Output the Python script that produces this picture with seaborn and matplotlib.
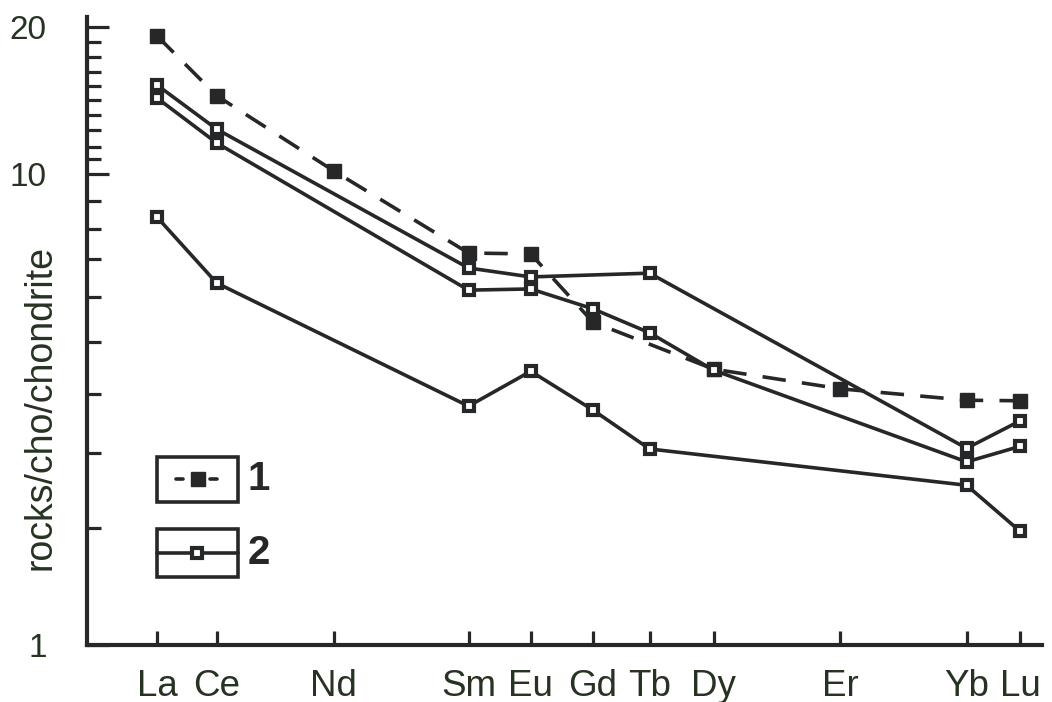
import numpy as np
import pandas as pd
import matplotlib
matplotlib.use("Agg")
import matplotlib.pyplot as plt
from matplotlib.lines import Line2D
from matplotlib.patches import Rectangle
from matplotlib.ticker import FixedLocator, NullFormatter
import seaborn as sns

# ---------------- data ----------------
elements = ["La", "Ce", "Nd", "Sm", "Eu", "Gd", "Tb", "Dy", "Er", "Yb", "Lu"]
positions = [57.0, 57.97, 59.87, 62.06, 63.07, 64.08, 65.0, 66.04, 68.1, 70.15, 71.02]
nan = np.nan
series_1 = [19.4, 15.3, 10.2, 7.19, 7.16, 5.42, nan, 4.45, 4.09, 3.88, 3.87]
series_2a = [16.07, 13.05, nan, 6.75, 6.51, nan, 6.61, nan, nan, 3.07, 3.51]
series_2b = [15.14, 12.23, nan, 6.17, 6.20, 5.72, 5.19, 4.43, nan, 2.86, 3.10]
series_2c = [8.41, 6.35, nan, 3.77, 4.41, 3.70, 3.06, nan, nan, 2.52, 1.96]
y_major = [1, 10, 20]
y_major_labels = ["1", "10", "20"]
y_minor = [2, 3, 4, 5, 6, 7, 8, 9, 11, 12, 13, 14, 15, 16, 17, 18, 19]
y_label = "rocks/cho/chondrite"
legend_labels = ["1", "2"]

# calibration of the hand-drawn (quasi-logarithmic) value axis:
# value -> fraction of axis height
axis_vals = [1, 2, 3, 4, 5, 6, 7, 8, 9, 10, 11, 12, 13, 14, 15, 16, 17, 18, 19, 20, 20.7]
axis_frac = [0.0, 0.1863, 0.3057, 0.3997, 0.4825, 0.5541, 0.6146, 0.6624,
             0.7070, 0.7500, 0.7739, 0.7930, 0.8201, 0.8439, 0.8678, 0.8901,
             0.9124, 0.9363, 0.9602, 0.9841, 1.0]

rows = []
for name, vals in [("1", series_1), ("2a", series_2a), ("2b", series_2b), ("2c", series_2c)]:
    for el, p, v in zip(elements, positions, vals):
        rows.append({"sample": name, "element": el, "pos": p, "value": v})
df = pd.DataFrame(rows).dropna()

_lv = np.log10(axis_vals)
_fr = np.array(axis_frac)


def fwd(v):
    v = np.asarray(v, dtype=float)
    return np.interp(np.log10(np.clip(v, 1e-6, None)), _lv, _fr)


def inv(f):
    f = np.asarray(f, dtype=float)
    return 10 ** np.interp(f, _fr, _lv)


# ---------------- style ----------------
sns.set_style("white")
plt.rcParams["font.family"] = ["Liberation Sans", "DejaVu Sans"]
line_c = "#262728"
text_c = "#263222"

fig = plt.figure(figsize=(10.52, 7.02), dpi=100)
ax = fig.add_axes([87 / 1052, 1 - 645 / 702, 955 / 1052, 628 / 702])

# filled series (dashed)
sns.lineplot(data=df[df["sample"] == "1"], x="pos", y="value", ax=ax,
             sort=False, estimator=None, color=line_c, linewidth=2.6,
             linestyle=(0, (6.5, 4.5)), marker="s", markersize=9.5,
             markerfacecolor=line_c, markeredgecolor=line_c,
             markeredgewidth=1.0, zorder=3)

# open series (solid)
for name in ["2a", "2b", "2c"]:
    sns.lineplot(data=df[df["sample"] == name], x="pos", y="value", ax=ax,
                 sort=False, estimator=None, color=line_c, linewidth=2.6,
                 marker="s", markersize=7.5, markerfacecolor="white",
                 markeredgecolor=line_c, markeredgewidth=3.0, zorder=4)

ax.set_yscale("function", functions=(fwd, inv))
ax.set_ylim(1, 20.7)
ax.set_xlim(55.863, 71.374)

ax.yaxis.set_major_locator(FixedLocator(y_major))
ax.set_yticklabels(y_major_labels)
ax.yaxis.set_minor_locator(FixedLocator(y_minor))
ax.yaxis.set_minor_formatter(NullFormatter())

ax.set_xticks(positions)
ax.set_xticklabels(elements)
ax.xaxis.set_minor_locator(FixedLocator([]))

ax.tick_params(axis="y", which="both", left=True, right=False)
ax.tick_params(axis="x", which="both", bottom=True, top=False)
ax.tick_params(axis="y", which="major", direction="in", length=16, width=2.3,
               color=line_c, labelsize=24, labelcolor=text_c, pad=29)
ax.tick_params(axis="y", which="minor", direction="in", length=10, width=2.3,
               color=line_c)
ax.tick_params(axis="x", which="major", direction="in", length=10, width=2.3,
               color=line_c, labelsize=26.5, labelcolor=text_c, pad=17)

for s in ["top", "right"]:
    ax.spines[s].set_visible(False)
for s in ["left", "bottom"]:
    ax.spines[s].set_linewidth(3.0)
    ax.spines[s].set_color(line_c)

ax.set_xlabel("")
ax.set_ylabel(y_label, fontsize=27, color=text_c)
ax.yaxis.set_label_coords(-0.030, 0.378)

# ---------------- legend (boxed keys) ----------------
tr = ax.transAxes
box_w = 0.0848
boxes = [(0.0733, 0.2277, 0.0717), (0.0733, 0.1083, 0.0764)]
for (x0, y0, h), lab in zip(boxes, legend_labels):
    ax.add_patch(Rectangle((x0, y0), box_w, h, transform=tr, fill=False,
                           edgecolor=line_c, linewidth=2.6, zorder=5,
                           clip_on=False))
    ax.text(x0 + box_w + 0.010, y0 + h / 2, lab, transform=tr, fontsize=29,
            fontweight="bold", color=line_c, va="center", ha="left")

yc1 = boxes[0][1] + boxes[0][2] / 2
ax.add_line(Line2D([0.0928, 0.1008], [yc1, yc1], transform=tr, color=line_c,
                   linewidth=2.6, zorder=6))
ax.add_line(Line2D([0.1288, 0.1361], [yc1, yc1], transform=tr, color=line_c,
                   linewidth=2.6, zorder=6))
ax.add_line(Line2D([0.1162], [yc1], transform=tr, color=line_c, marker="s",
                   markersize=9.5, markerfacecolor=line_c,
                   markeredgecolor=line_c, markeredgewidth=1.0, zorder=6))
yc2 = boxes[1][1] + boxes[1][2] / 2
ax.add_line(Line2D([0.0733, 0.0733 + box_w], [yc2, yc2], transform=tr,
                   color=line_c, linewidth=2.6, zorder=6))
ax.add_line(Line2D([0.1152], [yc2], transform=tr, color=line_c, marker="s",
                   markersize=7.5, markerfacecolor="white",
                   markeredgecolor=line_c, markeredgewidth=3.0, zorder=7))

fig.savefig("out.png", dpi=100)
